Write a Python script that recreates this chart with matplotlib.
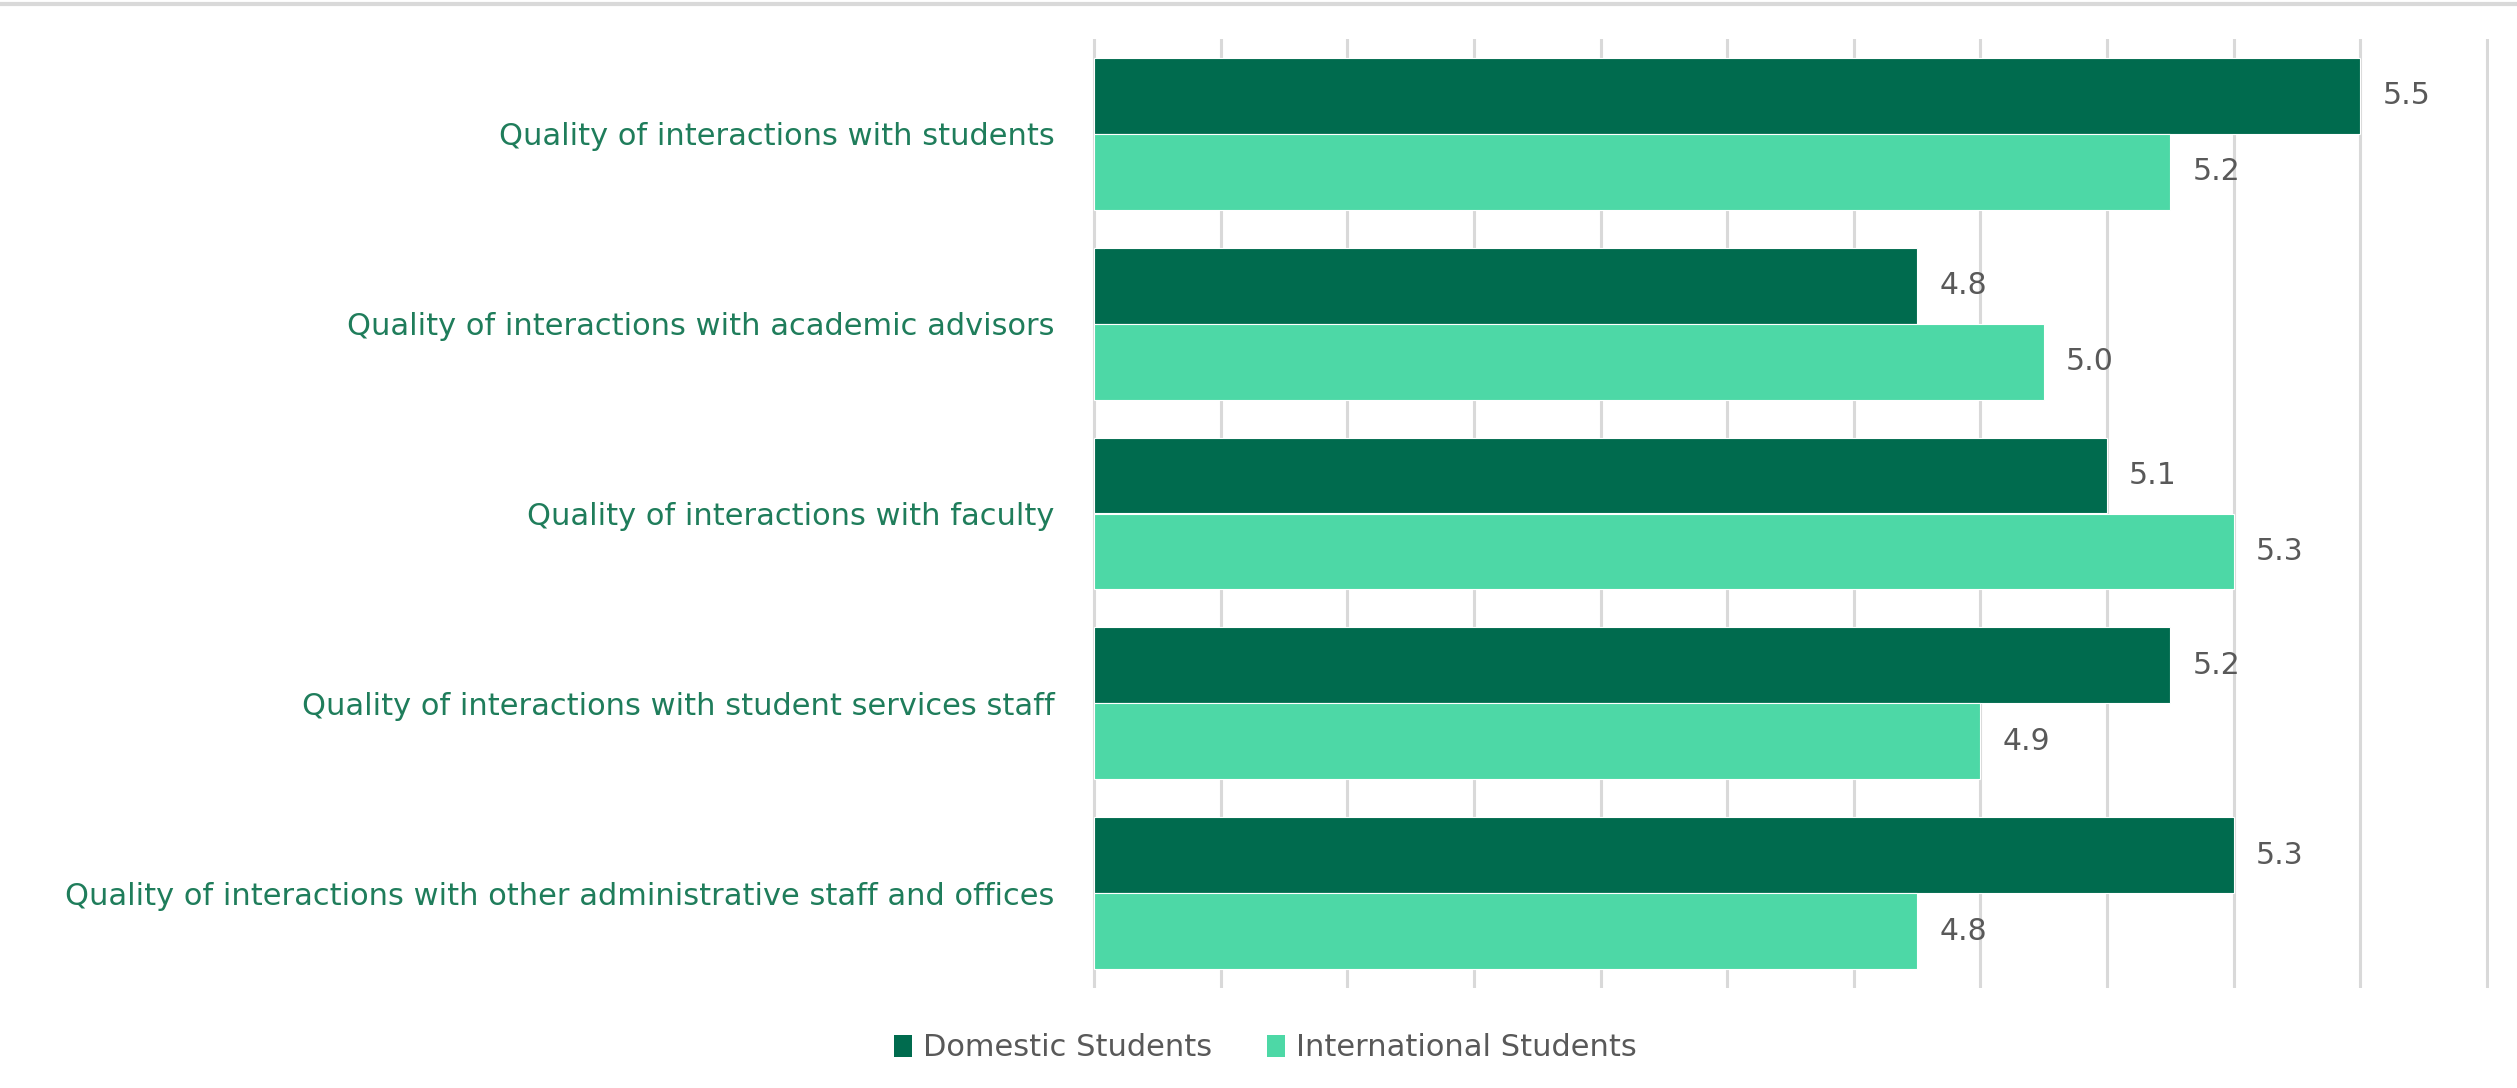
import numpy as np
import matplotlib.pyplot as plt
from matplotlib.lines import Line2D
from matplotlib.patches import Patch

# ---- data ----
categories = [
    "Quality of interactions with students",
    "Quality of interactions with academic advisors",
    "Quality of interactions with faculty",
    "Quality of interactions with student services staff",
    "Quality of interactions with other administrative staff and offices",
]
domestic = [5.5, 4.8, 5.1, 5.2, 5.3]
international = [5.2, 5.0, 5.3, 4.9, 4.8]
series_names = ["Domestic Students", "International Students"]

DARK = "#006B4E"
LIGHT = "#4DD8A6"
LABEL_GREEN = "#1F7D5B"
GREY_TXT = "#595959"
GRID = "#D9D9D9"
X_MIN, X_MAX = 3.5, 5.7

plt.rcParams["font.family"] = ["DejaVu Sans"]

W, H = 2517, 1088
fig = plt.figure(figsize=(W / 100, H / 100), dpi=100)
ax = fig.add_axes([1092 / W, 1 - 988 / H, (2489 - 1092) / W, (988 - 39) / H])

y = np.arange(len(categories))
bh = 0.4
# bars start at the axis minimum so they line up with the first gridline
bars_d = ax.barh(y - bh / 2, np.array(domestic) - X_MIN, left=X_MIN, height=bh,
                 color=DARK, edgecolor="white", linewidth=0.8, zorder=3)
bars_i = ax.barh(y + bh / 2, np.array(international) - X_MIN, left=X_MIN, height=bh,
                 color=LIGHT, edgecolor="white", linewidth=0.8, zorder=3)

# small margin so the outer gridlines are not cut in half
ax.set_xlim(X_MIN - 0.003, X_MAX + 0.003)
ax.set_ylim(len(categories) - 0.5, -0.5)
ax.set_xticks(np.arange(X_MIN, X_MAX + 0.01, 0.2))
ax.xaxis.grid(True, color=GRID, linewidth=2.2, zorder=0)
ax.tick_params(axis="x", length=0, labelbottom=False)
ax.tick_params(axis="y", length=0, pad=27, labelsize=22, labelcolor=LABEL_GREEN)
ax.set_yticks(y)
ax.set_yticklabels(categories)
for s in ax.spines.values():
    s.set_visible(False)

# value labels just past bar ends
for bars, vals in ((bars_d, domestic), (bars_i, international)):
    for b, v in zip(bars, vals):
        ax.annotate(f"{v:.1f}", (v, b.get_y() + b.get_height() / 2),
                    xytext=(22, 0), textcoords="offset pixels",
                    va="center", ha="left", fontsize=21.5, color=GREY_TXT, zorder=4)

# thin grey rule along the top edge
fig.add_artist(Line2D([0, 1], [1 - 4 / H, 1 - 4 / H], color=GRID, linewidth=3,
                      transform=fig.transFigure))

handles = [Patch(facecolor=DARK, edgecolor="none"), Patch(facecolor=LIGHT, edgecolor="none")]
fig.legend(handles, series_names, loc="center", bbox_to_anchor=(1265 / W, 1 - 1048 / H),
           ncol=2, frameon=False, fontsize=22, labelcolor=GREY_TXT,
           handlelength=0.6, handleheight=0.7, handletextpad=0.35, columnspacing=1.8)

fig.savefig("out.png", dpi=100, facecolor="white")
